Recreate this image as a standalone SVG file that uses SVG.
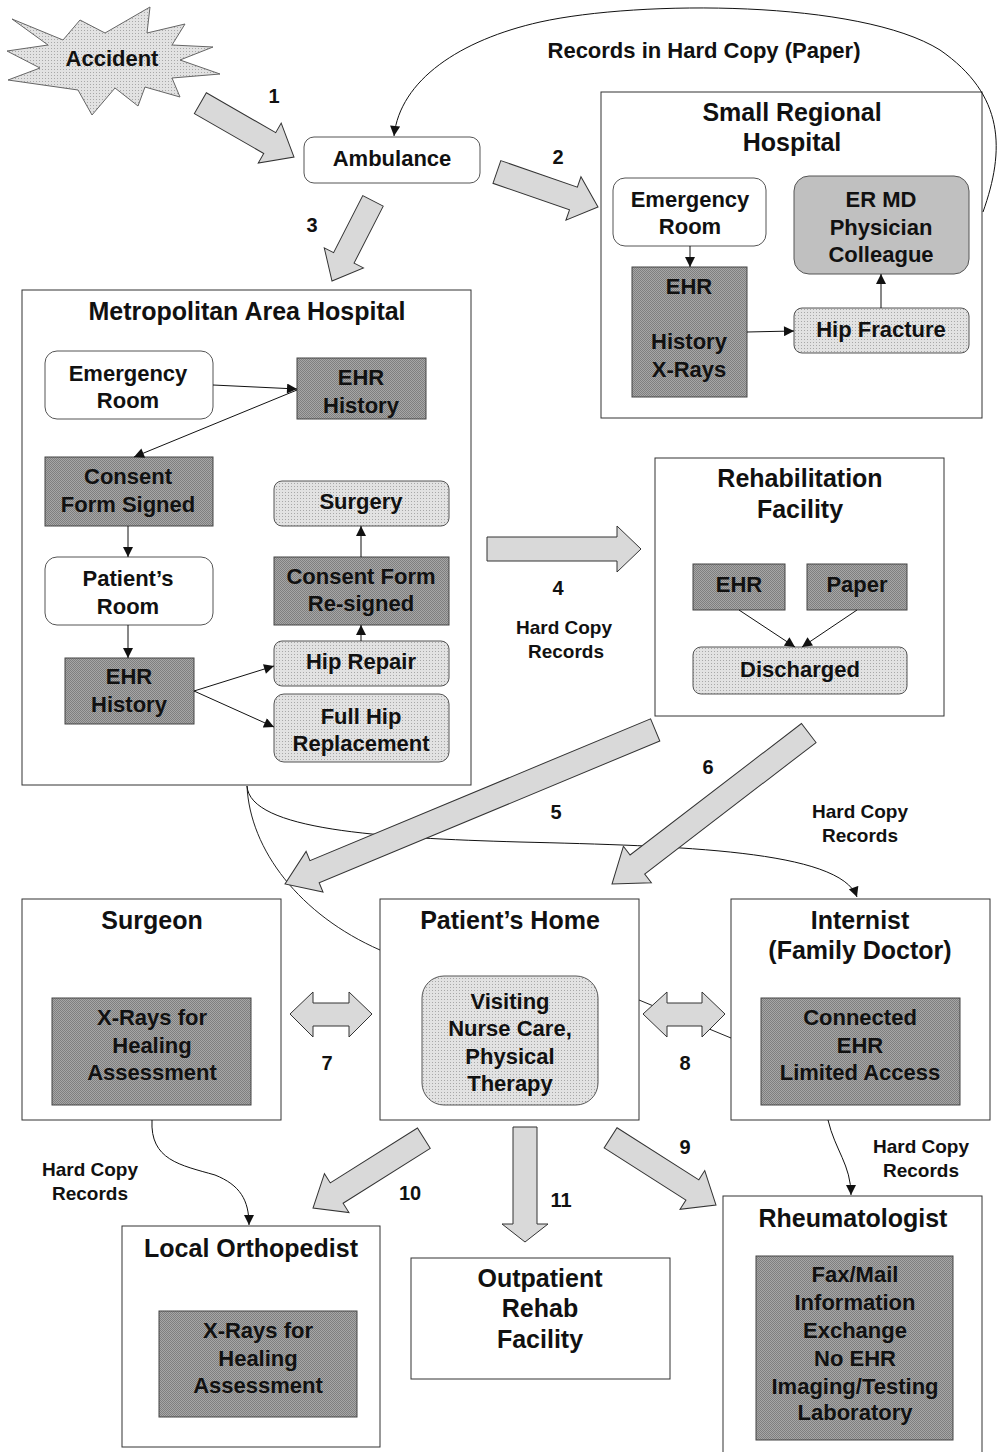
<svg xmlns="http://www.w3.org/2000/svg" width="1000" height="1452" viewBox="0 0 1000 1452">
<defs>
<pattern id="pdark" width="2" height="2" patternUnits="userSpaceOnUse"><rect width="2" height="2" fill="#a6a6a6"/><rect width="1" height="1" fill="#7f7f7f"/><rect x="1" y="1" width="1" height="1" fill="#7f7f7f"/></pattern>
<pattern id="pdot" width="3" height="3" patternUnits="userSpaceOnUse"><rect width="3" height="3" fill="#e2e2e2"/><rect width="1" height="1" fill="#a8a8a8"/></pattern>
<marker id="ah" viewBox="0 0 10 10" refX="10" refY="5" markerWidth="11" markerHeight="10" markerUnits="userSpaceOnUse" orient="auto"><path d="M0,0 L10,5 L0,10 z" fill="#111"/></marker>
</defs>
<style>
.t{font-family:"Liberation Sans",Arial,sans-serif;font-weight:bold;fill:#111;text-anchor:middle;dominant-baseline:central}
.b{font-size:22px}.h{font-size:25px}.l{font-size:19px}.n{font-size:20px}
.cont{fill:#fff;stroke:#333;stroke-width:1}
.wn{fill:#fff;stroke:#555;stroke-width:1}
.dk{fill:url(#pdark);stroke:#444;stroke-width:1}
.lt{fill:url(#pdot);stroke:#555;stroke-width:1}
.md{fill:#c0c0c0;stroke:#555;stroke-width:1}
.ba{fill:#d9d9d9;stroke:#333;stroke-width:1}
.cn{fill:none;stroke:#111;stroke-width:1;marker-end:url(#ah)}
.cl{fill:none;stroke:#222;stroke-width:1}
</style>
<rect width="1000" height="1452" fill="#fff"/>

<g id="accident">
<polygon class="lt" points="12,19 63,40 80,20 105,33 150,7 147,33 185,24 172,45 213,47 180,60 220,74 172,78 180,97 145,87 138,106 115,88 92,115 78,90 8,80 40,68 7,51 48,45" style="stroke:#666"/>
<text class="t b" x="112" y="58">Accident</text>
</g>

<g id="ambulance">
<rect class="wn" x="304" y="137" width="176" height="46" rx="10"/>
<text class="t b" x="392" y="158">Ambulance</text>
</g>

<g id="small-regional-hospital">
<rect class="cont" x="601" y="92" width="381" height="326"/>
<text class="t h" x="792" y="112">Small Regional</text>
<text class="t h" x="792" y="142">Hospital</text>
</g>
<g id="srh-er">
<rect class="wn" x="613" y="178" width="153" height="68" rx="12"/>
<text class="t b" x="690" y="199">Emergency</text>
<text class="t b" x="690" y="226">Room</text>
</g>
<g id="srh-ermd">
<rect class="md" x="794" y="176" width="175" height="98" rx="15"/>
<text class="t b" x="881" y="199">ER MD</text>
<text class="t b" x="881" y="227">Physician</text>
<text class="t b" x="881" y="254">Colleague</text>
</g>
<g id="srh-ehr">
<rect class="dk" x="632" y="267" width="115" height="130"/>
<text class="t b" x="689" y="286">EHR</text>
<text class="t b" x="689" y="341">History</text>
<text class="t b" x="689" y="369">X-Rays</text>
</g>
<g id="srh-hipfracture">
<rect class="lt" x="794" y="308" width="175" height="45" rx="8"/>
<text class="t b" x="881" y="329">Hip Fracture</text>
</g>

<g id="metropolitan-hospital">
<rect class="cont" x="22" y="290" width="449" height="495"/>
<text class="t h" x="247" y="311">Metropolitan Area Hospital</text>
</g>
<g id="mah-er">
<rect class="wn" x="45" y="351" width="168" height="68" rx="12"/>
<text class="t b" x="128" y="373">Emergency</text>
<text class="t b" x="128" y="400">Room</text>
</g>
<g id="mah-ehr1">
<rect class="dk" x="297" y="358" width="129" height="61"/>
<text class="t b" x="361" y="377">EHR</text>
<text class="t b" x="361" y="405">History</text>
</g>
<g id="mah-consent1">
<rect class="dk" x="45" y="457" width="168" height="69"/>
<text class="t b" x="128" y="476">Consent</text>
<text class="t b" x="128" y="504">Form Signed</text>
</g>
<g id="mah-patientroom">
<rect class="wn" x="45" y="557" width="168" height="68" rx="12"/>
<text class="t b" x="128" y="578">Patient’s</text>
<text class="t b" x="128" y="606">Room</text>
</g>
<g id="mah-ehr2">
<rect class="dk" x="65" y="658" width="129" height="66"/>
<text class="t b" x="129" y="676">EHR</text>
<text class="t b" x="129" y="704">History</text>
</g>
<g id="mah-surgery">
<rect class="lt" x="274" y="481" width="175" height="45" rx="8"/>
<text class="t b" x="361" y="501">Surgery</text>
</g>
<g id="mah-consent2">
<rect class="dk" x="274" y="557" width="175" height="68"/>
<text class="t b" x="361" y="576">Consent Form</text>
<text class="t b" x="361" y="603">Re-signed</text>
</g>
<g id="mah-hiprepair">
<rect class="lt" x="274" y="641" width="175" height="45" rx="8"/>
<text class="t b" x="361" y="661">Hip Repair</text>
</g>
<g id="mah-fullhip">
<rect class="lt" x="274" y="694" width="175" height="68" rx="10"/>
<text class="t b" x="361" y="716">Full Hip</text>
<text class="t b" x="361" y="743">Replacement</text>
</g>

<g id="rehab-facility">
<rect class="cont" x="655" y="458" width="289" height="258"/>
<text class="t h" x="800" y="478">Rehabilitation</text>
<text class="t h" x="800" y="509">Facility</text>
</g>
<g id="rf-ehr">
<rect class="dk" x="693" y="564" width="92" height="46"/>
<text class="t b" x="739" y="584">EHR</text>
</g>
<g id="rf-paper">
<rect class="dk" x="807" y="564" width="100" height="46"/>
<text class="t b" x="857" y="584">Paper</text>
</g>
<g id="rf-discharged">
<rect class="lt" x="693" y="647" width="214" height="47" rx="8"/>
<text class="t b" x="800" y="669">Discharged</text>
</g>

<g id="surgeon">
<rect class="cont" x="22" y="899" width="259" height="221"/>
<text class="t h" x="152" y="920">Surgeon</text>
<rect class="dk" x="52" y="998" width="199" height="107"/>
<text class="t b" x="152" y="1017">X-Rays for</text>
<text class="t b" x="152" y="1045">Healing</text>
<text class="t b" x="152" y="1072">Assessment</text>
</g>

<g id="patients-home">
<rect class="cont" x="380" y="899" width="259" height="221"/>
<text class="t h" x="510" y="920">Patient’s Home</text>
<rect class="lt" x="422" y="976" width="176" height="129" rx="22"/>
<text class="t b" x="510" y="1001">Visiting</text>
<text class="t b" x="510" y="1028">Nurse Care,</text>
<text class="t b" x="510" y="1056">Physical</text>
<text class="t b" x="510" y="1083">Therapy</text>
</g>

<g id="internist">
<rect class="cont" x="731" y="899" width="259" height="221"/>
<text class="t h" x="860" y="920">Internist</text>
<text class="t h" x="860" y="950">(Family Doctor)</text>
<rect class="dk" x="761" y="998" width="199" height="107"/>
<text class="t b" x="860" y="1017">Connected</text>
<text class="t b" x="860" y="1045">EHR</text>
<text class="t b" x="860" y="1072">Limited Access</text>
</g>

<g id="local-orthopedist">
<rect class="cont" x="122" y="1226" width="258" height="221"/>
<text class="t h" x="251" y="1248">Local Orthopedist</text>
<rect class="dk" x="159" y="1311" width="198" height="106"/>
<text class="t b" x="258" y="1330">X-Rays for</text>
<text class="t b" x="258" y="1358">Healing</text>
<text class="t b" x="258" y="1385">Assessment</text>
</g>

<g id="outpatient-rehab">
<rect class="cont" x="411" y="1258" width="259" height="121"/>
<text class="t h" x="540" y="1278">Outpatient</text>
<text class="t h" x="540" y="1308">Rehab</text>
<text class="t h" x="540" y="1339">Facility</text>
</g>

<g id="rheumatologist">
<rect class="cont" x="723" y="1196" width="259" height="262"/>
<text class="t h" x="853" y="1218">Rheumatologist</text>
<rect class="dk" x="756" y="1256" width="197" height="184"/>
<text class="t b" x="855" y="1274">Fax/Mail</text>
<text class="t b" x="855" y="1302">Information</text>
<text class="t b" x="855" y="1330">Exchange</text>
<text class="t b" x="855" y="1358">No EHR</text>
<text class="t b" x="855" y="1386">Imaging/Testing</text>
<text class="t b" x="855" y="1412">Laboratory</text>
</g>

<g id="connectors">
<path class="cn" d="M983,212 C1005,150 1005,95 940,50 C860,0 640,0 540,22 C460,40 400,80 394,136"/>
<path class="cl" d="M247,786 C250,850 300,915 380,950"/>
<path class="cn" d="M247,786 C250,830 380,838 520,842 C680,846 840,850 857,897"/>
<path class="cl" d="M639,1000 L731,1038"/>
<path class="cn" d="M152,1120 C150,1160 180,1165 215,1175 C240,1185 249,1200 249,1225"/>
<path class="cn" d="M828,1120 C835,1150 851,1165 851,1195"/>

<polygon class="ba" points="-108,-12 -28,-12 -28,-23 0,0 -28,23 -28,12 -108,12" transform="translate(294,157) rotate(29.9)"/>
<polygon class="ba" points="-107,-12 -26,-12 -26,-23 0,0 -26,23 -26,12 -107,12" transform="translate(598,207) rotate(19.1)"/>
<polygon class="ba" points="-90,-11.5 -26,-11.5 -26,-22 0,0 -26,22 -26,11.5 -90,11.5" transform="translate(332,281) rotate(117.1)"/>
<polygon class="ba" points="-154,-12 -24,-12 -24,-23 0,0 -24,23 -24,12 -154,12" transform="translate(641,549)"/>
<polygon class="ba" points="-401,-12 -32,-12 -32,-22 0,0 -32,22 -32,12 -401,12" transform="translate(285,884) rotate(157.4)"/>
<polygon class="ba" points="-248,-12 -32,-12 -32,-23 0,0 -32,23 -32,12 -248,12" transform="translate(612,884) rotate(142.5)"/>
<polygon class="ba" points="290,1014 313,992 313,1003 349,1003 349,992 372,1014 349,1037 349,1026 313,1026 313,1037"/>
<polygon class="ba" points="643,1014 667,992 667,1003 702,1003 702,992 725,1014 702,1037 702,1026 667,1026 667,1037"/>
<polygon class="ba" points="-125,-12 -28,-12 -28,-23 0,0 -28,23 -28,12 -125,12" transform="translate(716,1205) rotate(32.5)"/>
<polygon class="ba" points="-131,-12 -28,-12 -28,-23 0,0 -28,23 -28,12 -131,12" transform="translate(313,1208) rotate(147.8)"/>
<polygon class="ba" points="-115,-12 -18,-12 -18,-23 0,0 -18,23 -18,12 -115,12" transform="translate(525,1242) rotate(90)"/>

<path class="cn" d="M690,246 L690,267"/>
<path class="cn" d="M747,332 L794,331"/>
<path class="cn" d="M881,308 L881,274"/>
<path class="cn" d="M213,385 L297,389"/>
<path class="cn" d="M297,390 L134,457"/>
<path class="cn" d="M128,526 L128,557"/>
<path class="cn" d="M128,625 L128,658"/>
<path class="cn" d="M194,691 L274,666"/>
<path class="cn" d="M194,691 L274,727"/>
<path class="cn" d="M361,641 L361,625"/>
<path class="cn" d="M361,557 L361,526"/>
<path class="cn" d="M739,610 L795,647"/>
<path class="cn" d="M857,610 L802,647"/>

<text class="t n" x="274" y="96">1</text>
<text class="t n" x="558" y="157">2</text>
<text class="t n" x="312" y="225">3</text>
<text class="t n" x="558" y="588">4</text>
<text class="t n" x="556" y="812">5</text>
<text class="t n" x="708" y="767">6</text>
<text class="t n" x="327" y="1063">7</text>
<text class="t n" x="685" y="1063">8</text>
<text class="t n" x="685" y="1147">9</text>
<text class="t n" x="410" y="1193">10</text>
<text class="t n" x="561" y="1200">11</text>
<text class="t b" x="704" y="50">Records in Hard Copy (Paper)</text>
<text class="t l" x="564" y="627">Hard Copy</text>
<text class="t l" x="566" y="651">Records</text>
<text class="t l" x="860" y="811">Hard Copy</text>
<text class="t l" x="860" y="835">Records</text>
<text class="t l" x="90" y="1169">Hard Copy</text>
<text class="t l" x="90" y="1193">Records</text>
<text class="t l" x="921" y="1146">Hard Copy</text>
<text class="t l" x="921" y="1170">Records</text>
</g>
</svg>
